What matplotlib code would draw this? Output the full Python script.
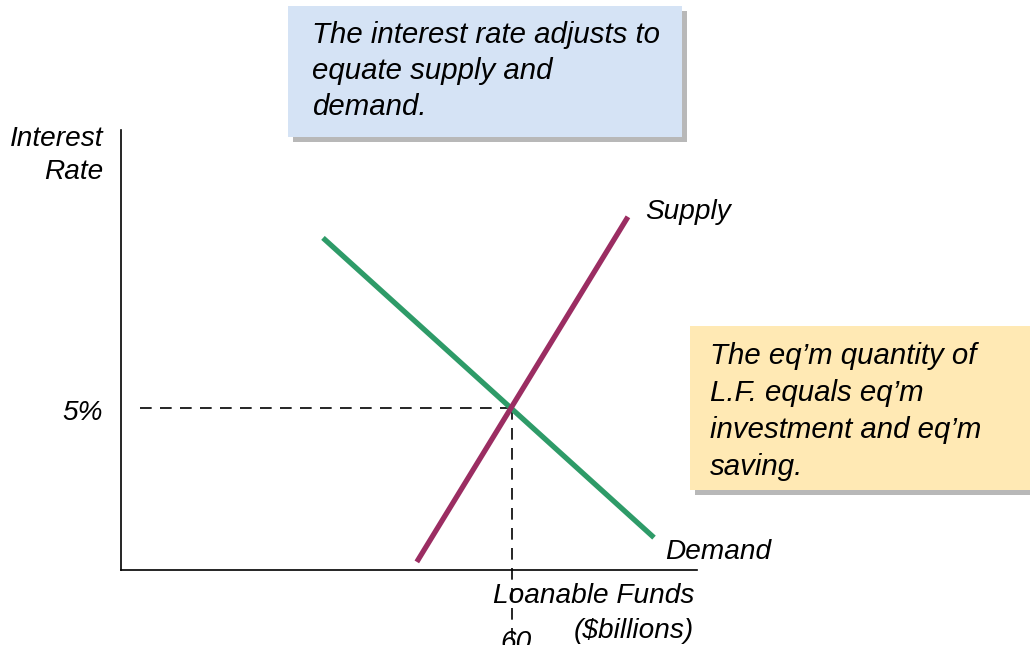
import matplotlib
matplotlib.use("Agg")
import matplotlib.pyplot as plt
from matplotlib.patches import Rectangle

# data (loanable funds in $billions, interest rate in %)
supply_q = [45.4, 77.8]
supply_r = [0.25, 10.9]
demand_q = [31.0, 81.8]
demand_r = [10.25, 1.0]
eq_q = 60
eq_r = 5

W, H = 1030, 645
fig = plt.figure(figsize=(W / 100, H / 100), dpi=100)
plt.rcParams['font.family'] = ['Liberation Sans', 'DejaVu Sans']


def fx(px):
    return px / W


def fy(py):
    return 1 - py / H


# axes placed so the axis lines sit where the reference has them
ax = fig.add_axes([fx(121), fy(570), fx(697) - fx(121), fy(130) - fy(570)])
ax.set_xlim(0, 88.4)
ax.set_ylim(0, 13.58)
for s in ['top', 'right']:
    ax.spines[s].set_visible(False)
for s in ['left', 'bottom']:
    ax.spines[s].set_linewidth(1.2)
ax.set_xticks([])
ax.set_yticks([])
ax.patch.set_alpha(0)

# dashed guides to the equilibrium
ax.plot([2.9, eq_q], [eq_r, eq_r], color='black', lw=1.2, dashes=(7, 5))
ax.plot([eq_q, eq_q], [eq_r, -2.4], color='black', lw=1.2, dashes=(7, 5),
        clip_on=False)

ax.plot(demand_q, demand_r, color='#2E9B68', lw=3.8, solid_capstyle='butt')
ax.plot(supply_q, supply_r, color='#9B2D62', lw=3.8, solid_capstyle='butt')

txt = dict(fontsize=20.2, style='italic', color='black')
box_txt = dict(fontsize=21.2, style='italic', color='black')

fig.text(fx(103), fy(139), 'Interest', ha='right', va='center', **txt)
fig.text(fx(103), fy(172), 'Rate', ha='right', va='center', **txt)
fig.text(fx(103), fy(413), '5%', ha='right', va='center', **txt)
fig.text(fx(645), fy(212), 'Supply', ha='left', va='center', **txt)
fig.text(fx(665), fy(552), 'Demand', ha='left', va='center', **txt)
fig.text(fx(694), fy(596), 'Loanable Funds', ha='right', va='center', **txt)
fig.text(fx(694), fy(631), '($billions)', ha='right', va='center', **txt)
fig.text(fx(516), fy(643), '60', ha='center', va='center', **txt)


def note_box(x0, y0, x1, y1, color, lines, tx, ty0, step):
    shadow = Rectangle((fx(x0 + 5), fy(y1 + 5)), fx(x1) - fx(x0), fy(y0) - fy(y1),
                       transform=fig.transFigure, facecolor='#9a9a9a',
                       edgecolor='none', alpha=0.7, zorder=1)
    box = Rectangle((fx(x0), fy(y1)), fx(x1) - fx(x0), fy(y0) - fy(y1),
                    transform=fig.transFigure, facecolor=color,
                    edgecolor='none', zorder=2)
    fig.patches.append(shadow)
    fig.patches.append(box)
    for i, line in enumerate(lines):
        fig.text(fx(tx), fy(ty0 + i * step), line, ha='left', va='center',
                 zorder=3, **box_txt)


note_box(288, 6, 682, 137, '#D5E3F5',
         ['The interest rate adjusts to', 'equate supply and', 'demand.'],
         312, 35, 36)
note_box(690, 326, 1040, 490, '#FFE9B4',
         ['The eq\u2019m quantity of', 'L.F. equals eq\u2019m',
          'investment and eq\u2019m', 'saving.'],
         710, 356, 37)

fig.savefig('out.png', dpi=100)
